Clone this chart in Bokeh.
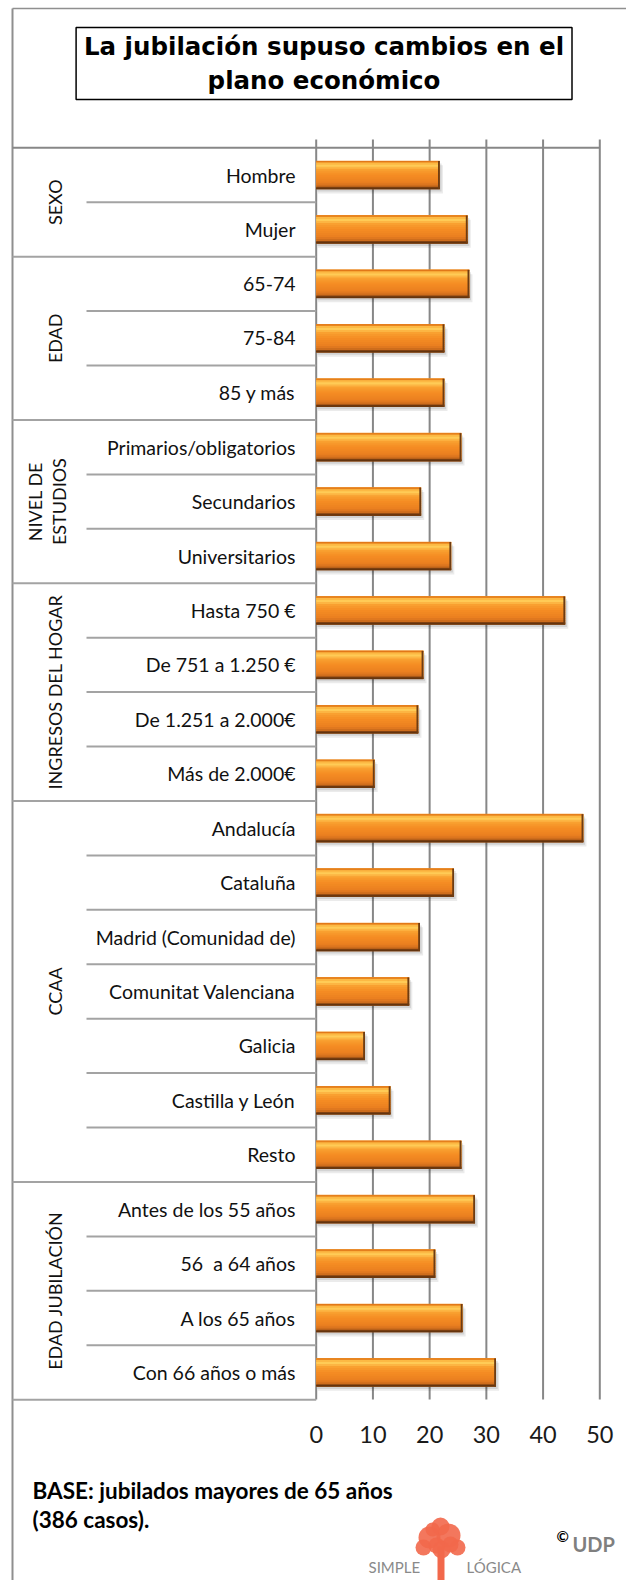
from math import pi
from bokeh.plotting import figure
from bokeh.models import ColumnDataSource, Range1d
from bokeh.transform import dodge
from bokeh.core.properties import value
from bokeh.embed import file_html
from bokeh.resources import INLINE

# ---------------- data ----------------
categories = ["Hombre", "Mujer", "65-74", "75-84", "85 y más",
              "Primarios/obligatorios", "Secundarios", "Universitarios",
              "Hasta 750 €", "De 751 a 1.250 €", "De 1.251 a 2.000€", "Más de 2.000€",
              "Andalucía", "Cataluña", "Madrid (Comunidad de)", "Comunitat Valenciana",
              "Galicia", "Castilla y León", "Resto",
              "Antes de los 55 años", "56  a 64 años", "A los 65 años", "Con 66 años o más"]
values = [21.8, 26.7, 27.0, 22.6, 22.6,
          25.6, 18.5, 23.8,
          43.9, 18.9, 18.0, 10.3,
          47.1, 24.3, 18.3, 16.4, 8.6, 13.1, 25.6,
          28.0, 21.0, 25.8, 31.7]
groups = ["SEXO", "EDAD", "NIVEL DE\nESTUDIOS", "INGRESOS DEL HOGAR", "CCAA", "EDAD JUBILACIÓN"]
group_sizes = [2, 3, 3, 4, 7, 4]
ticks = [0, 10, 20, 30, 40, 50]
title_lines = ["La jubilación supuso cambios en el", "plano económico"]
base_lines = ["BASE: jubilados mayores de 65 años", "(386 casos)."]

# ---------------- layout helpers (page pixels -> data) ----------------
W, H = 626, 1580
X0, PX = 315.7, 5.672     # page x of value 0, px per unit
Y0, RH = 147.3, 54.43     # page y of first row boundary, row height


def fx(px):
    return (px - X0) / PX


def fy(py):
    return (py - Y0) / RH


FONT = value("Lato")
p = figure(width=W, height=H, output_backend="svg", toolbar_location=None,
           x_range=Range1d(fx(0), fx(W)),
           y_range=Range1d(fy(H), fy(0)),
           x_axis_location=None, y_axis_location=None,
           min_border=0, outline_line_color=None,
           background_fill_color="white", border_fill_color="white")
p.grid.visible = False

# ---------------- frame lines ----------------
p.segment(x0=[fx(12)], x1=[fx(12)], y0=[fy(8)], y1=[fy(1585)], line_color="#8f8f8f", line_width=2)
p.segment(x0=[fx(12)], x1=[fx(640)], y0=[fy(8)], y1=[fy(8)], line_color="#8f8f8f", line_width=1.5)

# title box
p.quad(left=[fx(75.6)], right=[fx(571.5)], top=[fy(27)], bottom=[fy(99)],
       fill_color="white", line_color="black", line_width=1.5)
p.text(x=[fx(323.5)] * 2, y=[fy(46.4), fy(79.6)], text=title_lines,
       text_font=value("DejaVu Sans"), text_font_style="bold", text_font_size="24.5px",
       text_align="center", text_baseline="middle", text_color="black")

# ---------------- grid ----------------
tsrc = ColumnDataSource(dict(t=ticks, lbl=[str(t) for t in ticks]))
p.segment(x0="t", x1="t", y0=fy(139), y1=fy(1399), source=tsrc,
          line_color="#878787", line_width=2)
p.text(x="t", y=fy(1434), text="lbl", source=tsrc, text_font=FONT,
       text_font_size="23.5px", text_align="center", text_baseline="middle", text_color="#1a1a1a")

n = len(categories)
bounds = [0]
for s in group_sizes:
    bounds.append(bounds[-1] + s)
sub = [k for k in range(1, n) if k not in bounds]
p.segment(x0=fx(86), x1=0, y0="k", y1="k", source=ColumnDataSource(dict(k=sub)),
          line_color="#a3a3a3", line_width=2)
p.segment(x0=fx(12), x1=0, y0="k", y1="k", source=ColumnDataSource(dict(k=bounds[1:])),
          line_color="#a3a3a3", line_width=2)
p.segment(x0=[fx(12)], x1=[ticks[-1]], y0=[0], y1=[0], line_color="#878787", line_width=2)

# ---------------- labels ----------------
shown = [c.replace("  ", " \u00a0") for c in categories]
src = ColumnDataSource(dict(y=[i + 0.5 for i in range(n)], v=values, cat=shown))
p.text(x=fx(295), y="y", text="cat", source=src, text_font=FONT, text_font_size="19.5px",
       text_align="right", text_baseline="middle", text_color="#111111")

gx, gy, gt = [], [], []
for g, a, b in zip(groups, bounds[:-1], bounds[1:]):
    lines = g.split("\n")
    xs = [54] if len(lines) == 1 else [34, 58]
    for ln, xx in zip(lines, xs):
        gx.append(fx(xx))
        gy.append((a + b) / 2)
        gt.append(ln)
p.text(x=gx, y=gy, text=gt, angle=pi / 2, text_font=FONT, text_font_size="18px",
       text_align="center", text_baseline="middle", text_color="#111111")

# ---------------- bars ----------------
h = 0.515
p.hbar(y=dodge("y", 0.08, range=p.y_range), left=0.3, right=dodge("v", 0.55, range=p.x_range),
       height=h, source=src, fill_color="black", fill_alpha=0.08, line_color=None)
p.hbar(y=dodge("y", 0.045, range=p.y_range), left=0.2, right=dodge("v", 0.3, range=p.x_range),
       height=h, source=src, fill_color="black", fill_alpha=0.10, line_color=None)

stops = [(0.00, (226, 120, 24)), (0.07, (250, 172, 56)), (0.17, (255, 206, 88)),
         (0.32, (249, 160, 48)), (0.50, (245, 141, 36)), (0.78, (234, 127, 32)),
         (0.90, (204, 108, 28)), (0.95, (140, 72, 20)), (1.00, (100, 52, 14))]


def col_at(t):
    for (t0, c0), (t1, c1) in zip(stops[:-1], stops[1:]):
        if t0 <= t <= t1:
            f = (t - t0) / (t1 - t0) if t1 > t0 else 0
            return "#%02x%02x%02x" % tuple(int(round(a + (b - a) * f)) for a, b in zip(c0, c1))
    return "#%02x%02x%02x" % stops[-1][1]


# base bar, then overlapping gradient bands
p.hbar(y="y", left=0, right="v", height=h, source=src, fill_color=col_at(0.5), line_color=None)
NB = 14
for k in range(NB):
    a, b = k / NB, (k + 1) / NB
    off = -h / 2 + (a + b) / 2 * h
    p.hbar(y=dodge("y", off, range=p.y_range), left=0, right="v", height=(b - a) * h * 1.35,
           source=src, fill_color=col_at((a + b) / 2), line_color=None)
p.hbar(y=dodge("y", -h / 2 + 0.02 * h, range=p.y_range), left=0, right="v", height=0.04 * h,
       source=src, fill_color=col_at(0.0), line_color=None)
p.hbar(y=dodge("y", h / 2 - 0.025 * h, range=p.y_range), left=0, right="v", height=0.05 * h,
       source=src, fill_color=col_at(1.0), line_color=None)
p.hbar(y="y", left=dodge("v", -0.32, range=p.x_range), right="v", height=h,
       source=src, fill_color="#6E3C12", line_color=None)

# ---------------- footer ----------------
p.text(x=[fx(32)] * 2, y=[fy(1490), fy(1519)], text=base_lines, text_font=FONT,
       text_font_style="bold", text_font_size="22.5px", text_align="left",
       text_baseline="middle", text_color="black")
p.text(x=[fx(556)], y=[fy(1535)], text=["©"], text_font=FONT, text_font_style="bold",
       text_font_size="15px", text_align="left", text_baseline="middle", text_color="black")
p.text(x=[fx(572)], y=[fy(1543)], text=["UDP"], text_font=FONT, text_font_style="bold",
       text_font_size="20px", text_align="left", text_baseline="middle", text_color="#7f7f7f")

# logo
cx = [fx(v) for v in (429, 448, 440, 423, 457, 441, 432, 450, 436)]
cy = [fy(v) for v in (1537, 1535, 1526, 1547, 1547, 1549, 1529, 1544, 1545)]
p.scatter(x=cx, y=cy, size=[22, 24, 18, 16, 16, 18, 14, 16, 16], marker="circle",
          fill_color="#F2684B", fill_alpha=0.9, line_color=None)
p.quad(left=[fx(437)], right=[fx(444)], top=[fy(1546)], bottom=[fy(1580)],
       fill_color="#F2684B", line_color=None)
p.text(x=[fx(368), fx(466)], y=[fy(1566)] * 2, text=["SIMPLE", "LÓGICA"], text_font=FONT,
       text_font_size="15px", text_align="left", text_baseline="middle", text_color="#8a8a8a")

open("out.html", "w").write(file_html(p, INLINE))
